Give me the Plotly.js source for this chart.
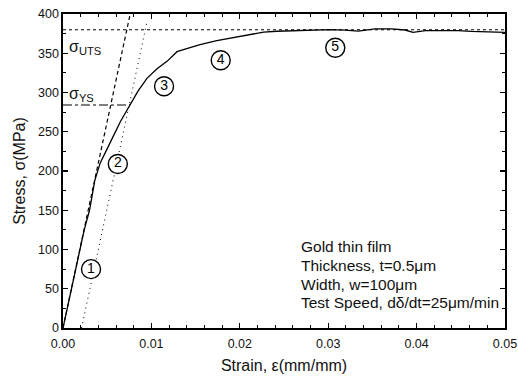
<!DOCTYPE html>
<html>
<head>
<meta charset="utf-8">
<script src="https://cdn.plot.ly/plotly-3.0.1.min.js"></script>
<style>html,body{margin:0;padding:0;background:#fff;}#chart{width:518px;height:380px;}</style>
</head>
<body>
<div id="chart"></div>
<script>
// Stress-strain curve (strain mm/mm, stress MPa)
const strain = [0, 0.0024, 0.003, 0.0036, 0.0042, 0.0049, 0.0055, 0.0065, 0.0076, 0.0085, 0.0095, 0.0106, 0.0118, 0.0129, 0.014, 0.0155, 0.0174, 0.0204, 0.0227, 0.0242, 0.0264, 0.0302, 0.0319, 0.0334, 0.0353, 0.0372, 0.0387, 0.0396, 0.041, 0.0447, 0.0462, 0.05];
const stress = [0, 125, 150, 188, 210, 227, 240, 263, 284, 302, 318, 330, 340, 352, 356, 361, 366, 372, 377, 378, 379, 380, 379.5, 378.3, 381, 381, 379.6, 376.6, 378.8, 378.8, 377.8, 376.6];

// Elastic modulus line (dashed)
const elasticX = [0, 0.0076];
const elasticY = [0, 400];
// 0.2% offset line (dotted)
const offsetX = [0.0021, 0.0095];
const offsetY = [0, 390];
// Ultimate tensile strength line
const utsX = [0, 0.05];
const utsY = [380, 380];
// Yield strength line
const ysX = [0, 0.0076];
const ysY = [284, 284];

// Circled region markers
const regionX = [0.00317, 0.0062, 0.01143, 0.01784, 0.0308];
const regionY = [75, 209, 308, 341, 357];
const regionLabels = ['1', '2', '3', '4', '5'];

// Specimen info text lines
const infoLines = ['Gold thin film', 'Thickness, t=0.5μm', 'Width, w=100μm', 'Test Speed, dδ/dt=25μm/min'];
const infoX = 0.02674;
const infoY = [103.6, 79.6, 55.8, 32.2];

const xTicks = [0, 0.01, 0.02, 0.03, 0.04, 0.05];
const xTickLabels = ['0.00', '0.01', '0.02', '0.03', '0.04', '0.05'];
const yTicks = [0, 50, 100, 150, 200, 250, 300, 350, 400];

const font = 'Liberation Sans, Arial, sans-serif';

const traces = [
  {x: utsX, y: utsY, mode: 'lines', line: {color: '#000', width: 1.1, dash: 'dot'}, hoverinfo: 'none'},
  {x: ysX, y: ysY, mode: 'lines', line: {color: '#000', width: 1.1, dash: 'dashdot'}, hoverinfo: 'none'},
  {x: elasticX, y: elasticY, mode: 'lines', line: {color: '#000', width: 1.2, dash: '4px,3px'}, hoverinfo: 'none'},
  {x: offsetX, y: offsetY, mode: 'lines', line: {color: '#000', width: 1, dash: '1px,4px'}, hoverinfo: 'none'},
  {x: strain, y: stress, mode: 'lines', line: {color: '#000', width: 1.3}, hoverinfo: 'none'},
  {x: regionX, y: regionY, mode: 'markers+text', text: regionLabels, textposition: 'middle center',
   textfont: {family: font, size: 14, color: '#000'},
   marker: {symbol: 'circle', size: 19, color: '#fff', line: {width: 1.4, color: '#000'}}, hoverinfo: 'none'}
];

const annotations = [
  {x: 0.0005, y: 357, xref: 'x', yref: 'y', xanchor: 'left', yanchor: 'middle', showarrow: false,
   text: 'σ<sub>UTS</sub>', font: {family: font, size: 16, color: '#111'}},
  {x: 0.0005, y: 297, xref: 'x', yref: 'y', xanchor: 'left', yanchor: 'middle', showarrow: false,
   text: 'σ<sub>YS</sub>', font: {family: font, size: 16, color: '#111'}}
];
infoLines.forEach((t, i) => annotations.push({
  x: infoX, y: infoY[i], xref: 'x', yref: 'y', xanchor: 'left', yanchor: 'middle', showarrow: false,
  text: t, font: {family: font, size: 15.5, color: '#111'}
}));

const layout = {
  width: 518, height: 380,
  margin: {l: 63, r: 13, t: 14, b: 52},
  paper_bgcolor: '#fff', plot_bgcolor: '#fff',
  showlegend: false,
  font: {family: font, color: '#111'},
  xaxis: {
    range: [0, 0.05], tickvals: xTicks, ticktext: xTickLabels,
    ticks: 'inside', ticklen: 5, tickwidth: 1.3, tickcolor: '#000',
    minor: {dtick: 0.002, ticks: 'inside', ticklen: 3, tickwidth: 1, tickcolor: '#000'},
    showline: true, linewidth: 1.6, linecolor: '#000', mirror: 'ticks',
    showgrid: false, zeroline: false, ticklabelstandoff: 3,
    tickfont: {size: 12.5, color: '#111'},
    title: {text: 'Strain, ε(mm/mm)', font: {size: 16, color: '#111'}, standoff: 10}
  },
  yaxis: {
    range: [0, 400], tickvals: yTicks,
    ticks: 'inside', ticklen: 5, tickwidth: 1.3, tickcolor: '#000',
    minor: {dtick: 25, ticks: 'inside', ticklen: 3, tickwidth: 1, tickcolor: '#000'},
    showline: true, linewidth: 1.6, linecolor: '#000', mirror: 'ticks',
    showgrid: false, zeroline: false,
    tickfont: {size: 12.5, color: '#111'},
    title: {text: 'Stress, σ(MPa)', font: {size: 16, color: '#111'}, standoff: 8}
  },
  annotations: annotations
};

Plotly.newPlot('chart', traces, layout, {displayModeBar: false, staticPlot: true});
</script>
</body>
</html>
